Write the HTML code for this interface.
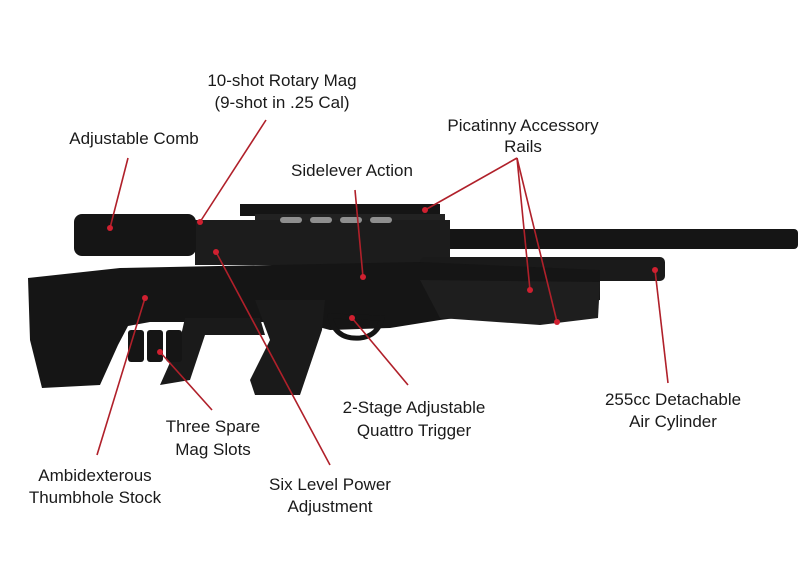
<!DOCTYPE html>
<html><head><meta charset="utf-8"><style>
html,body{margin:0;padding:0;background:#fff}
svg{display:block}
text{font-family:"Liberation Sans",sans-serif;font-size:17px;fill:#1a1a1a;text-anchor:middle}
</style></head><body>
<svg width="800" height="572" viewBox="0 0 800 572">
<g fill="#151515">
  <rect x="250" y="229" width="548" height="20" rx="4"/>
  <rect x="240" y="204" width="200" height="12"/>
  <rect x="255" y="214" width="190" height="16" fill="#222"/>
  <rect x="195" y="220" width="255" height="45" fill="#1c1c1c"/>
  <rect x="74" y="214" width="122" height="42" rx="8"/>
  <rect x="420" y="257" width="245" height="24" rx="5" fill="#1a1a1a"/>
  <path d="M28 278 L120 268 L420 262 L600 270 L600 300 L440 320 L390 328 L330 330 L300 322 L150 322 L128 326 L118 345 L100 385 L42 388 L30 340 Z"/>
  <path d="M420 280 L600 282 L598 318 L540 325 L440 318 Z" fill="#1e1e1e"/>
  <path d="M255 300 L325 300 L322 330 L300 395 L255 395 L250 380 L270 340 Z" fill="#1a1a1a"/>
  <path d="M185 318 L260 318 L265 335 L205 335 L190 380 L160 385 L180 340 Z" fill="#1a1a1a"/>
  <rect x="128" y="330" width="16" height="32" rx="3"/>
  <rect x="147" y="330" width="16" height="32" rx="3"/>
  <rect x="166" y="330" width="16" height="32" rx="3"/>
  <path d="M330 316 Q335 340 360 338 Q378 336 382 318 Z" fill="none" stroke="#151515" stroke-width="5"/>
</g>
<g fill="#fff" opacity="0.5">
  <rect x="280" y="217" width="22" height="6" rx="3"/>
  <rect x="310" y="217" width="22" height="6" rx="3"/>
  <rect x="340" y="217" width="22" height="6" rx="3"/>
  <rect x="370" y="217" width="22" height="6" rx="3"/>
</g>
<g stroke="#b0202a" stroke-width="1.6" fill="none">
  <line x1="128" y1="158" x2="110" y2="228"/>
  <line x1="266" y1="120" x2="200" y2="222"/>
  <line x1="355" y1="190" x2="363" y2="277"/>
  <line x1="517" y1="158" x2="425" y2="210"/>
  <line x1="517" y1="158" x2="530" y2="290"/>
  <line x1="517" y1="158" x2="557" y2="322"/>
  <line x1="668" y1="383" x2="655" y2="270"/>
  <line x1="408" y1="385" x2="352" y2="318"/>
  <line x1="212" y1="410" x2="160" y2="352"/>
  <line x1="97" y1="455" x2="145" y2="298"/>
  <line x1="330" y1="465" x2="216" y2="252"/>
</g>
<g fill="#d02030">
  <circle cx="110" cy="228" r="3"/><circle cx="200" cy="222" r="3"/>
  <circle cx="363" cy="277" r="3"/><circle cx="425" cy="210" r="3"/>
  <circle cx="530" cy="290" r="3"/><circle cx="557" cy="322" r="3"/>
  <circle cx="655" cy="270" r="3"/><circle cx="352" cy="318" r="3"/>
  <circle cx="160" cy="352" r="3"/><circle cx="145" cy="298" r="3"/>
  <circle cx="216" cy="252" r="3"/>
</g>
<text x="282" y="86">10-shot Rotary Mag</text>
<text x="282" y="108">(9-shot in .25 Cal)</text>
<text x="134" y="144">Adjustable Comb</text>
<text x="523" y="131">Picatinny Accessory</text>
<text x="523" y="152">Rails</text>
<text x="352" y="176">Sidelever Action</text>
<text x="673" y="405">255cc Detachable</text>
<text x="673" y="427">Air Cylinder</text>
<text x="414" y="413">2-Stage Adjustable</text>
<text x="414" y="436">Quattro Trigger</text>
<text x="213" y="432">Three Spare</text>
<text x="213" y="455">Mag Slots</text>
<text x="95" y="481">Ambidexterous</text>
<text x="95" y="503">Thumbhole Stock</text>
<text x="330" y="490">Six Level Power</text>
<text x="330" y="512">Adjustment</text>
</svg>
</body></html>
